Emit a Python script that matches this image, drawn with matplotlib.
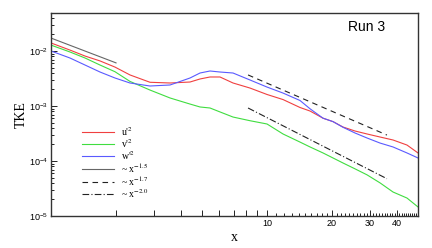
import numpy as np
import matplotlib
matplotlib.use('Agg')
from matplotlib import pyplot as plt
from matplotlib import ticker

# 读数据
x = [1.0, 1.224, 1.437, 1.686, 1.978, 2.321, 2.873, 3.556, 4.401, 4.896, 5.446, 6.058,
     6.961, 8.344, 10.0, 11.86, 14.21, 15.82, 18.17, 20.21, 22.48, 25.55, 29.04, 33.36,
     38.31, 44.47, 50.0]
u2 = [1.40e-2, 1.04e-2, 8.1e-3, 6.6e-3, 5.1e-3, 3.67e-3, 2.70e-3, 2.62e-3, 2.73e-3, 3.10e-3,
      3.37e-3, 3.37e-3, 2.62e-3, 2.12e-3, 1.62e-3, 1.31e-3, 9.4e-4, 8.1e-4, 6.0e-4, 5.2e-4,
      4.15e-4, 3.51e-4, 3.10e-4, 2.73e-4, 2.41e-4, 1.95e-4, 1.40e-4]
v2 = [1.28e-2, 9.6e-3, 7.46e-3, 5.56e-3, 4.2e-3, 2.8e-3, 1.95e-3, 1.40e-3, 1.085e-3, 9.6e-4,
      9.2e-4, 7.8e-4, 6.3e-4, 5.4e-4, 4.71e-4, 3.10e-4, 2.21e-4, 1.80e-4, 1.40e-4, 1.135e-4,
      9.2e-5, 7.2e-5, 5.6e-5, 4.0e-5, 2.73e-5, 2.12e-5, 1.46e-5]
w2 = [1.0e-2, 7.46e-3, 5.56e-3, 4.15e-3, 3.23e-3, 2.62e-3, 2.31e-3, 2.41e-3, 3.23e-3, 3.98e-3,
      4.33e-3, 4.15e-3, 3.98e-3, 2.97e-3, 2.21e-3, 1.72e-3, 1.26e-3, 8.9e-4, 6.0e-4, 5.2e-4,
      4.1e-4, 3.23e-4, 2.62e-4, 2.12e-4, 1.80e-4, 1.40e-4, 1.135e-4]

# power-law reference lines: (x start, x end, y at start, exponent)
ref_lines = [(1.0, 2.0, 1.72e-2, 1.5), (8.17, 35.9, 3.67e-3, 1.7), (8.17, 35.9, 9.2e-4, 2.0)]
ref_labels = [r'~ x$^{-1.5}$', r'~ x$^{-1.7}$', r'~ x$^{-2.0}$']
ref_styles = [dict(color='#666666', ls='-'), dict(color='#222222', ls=(0, (5, 4))),
              dict(color='#222222', ls=(0, (6, 2, 1, 2)))]

plt.rcParams['font.family'] = ['Liberation Sans', 'DejaVu Sans']
plt.rcParams['mathtext.fontset'] = 'stix'

fig = plt.figure(figsize=(4.32, 2.48), dpi=100)
ax = fig.add_axes([51 / 432, 1 - 216 / 248, 367 / 432, 203 / 248])

ax.plot(x, u2, color='#f04040', lw=0.8, label=r"u$'^2$")
ax.plot(x, v2, color='#40dd40', lw=0.8, label=r"v$'^2$")
ax.plot(x, w2, color='#5a5aff', lw=0.8, label=r"w$'^2$")
for (x0, x1, y0, n), lab, st in zip(ref_lines, ref_labels, ref_styles):
    xx = np.array([x0, x1])
    ax.plot(xx, y0 * (xx / x0) ** (-n), lw=0.8, label=lab, **st)

ax.set_xscale('log')
ax.set_yscale('log')
ax.set_xlim(1, 50)
ax.set_ylim(1e-5, 10 ** -1.309)

major_x = [2, 3, 4, 5, 6, 7, 8, 9, 10, 20, 30, 40]
ax.xaxis.set_major_locator(ticker.FixedLocator(major_x))
ax.xaxis.set_major_formatter(ticker.FuncFormatter(lambda v, p: '%d' % v if v >= 10 else ''))
ax.xaxis.set_minor_locator(ticker.FixedLocator([v for v in range(11, 50) if v % 10]))
ax.xaxis.set_minor_formatter(ticker.NullFormatter())
ax.yaxis.set_major_locator(ticker.LogLocator(base=10, numticks=10))
ax.yaxis.set_minor_locator(ticker.LogLocator(base=10, subs=np.arange(2, 10), numticks=10))
ax.tick_params(which='both', direction='in', labelsize=6.5, width=0.6)
ax.tick_params(which='major', length=4, pad=2)
ax.tick_params(which='minor', length=2)
for s in ax.spines.values():
    s.set_linewidth(1.0)
    s.set_color('#333333')

ax.set_xlabel('x', family='Liberation Serif', fontsize=10, labelpad=2)
ax.set_ylabel('TKE', family='Liberation Serif', fontsize=10, labelpad=1)
ax.text(0.86, 0.93, 'Run 3', transform=ax.transAxes, fontsize=10, ha='center', va='center')

leg = ax.legend(loc='center left', bbox_to_anchor=(0.07, 0.265), frameon=False,
                prop={'family': 'Liberation Serif', 'size': 7}, handlelength=3.3,
                handletextpad=0.8, labelspacing=-0.08, borderpad=0)

fig.savefig('out.png', dpi=100)
